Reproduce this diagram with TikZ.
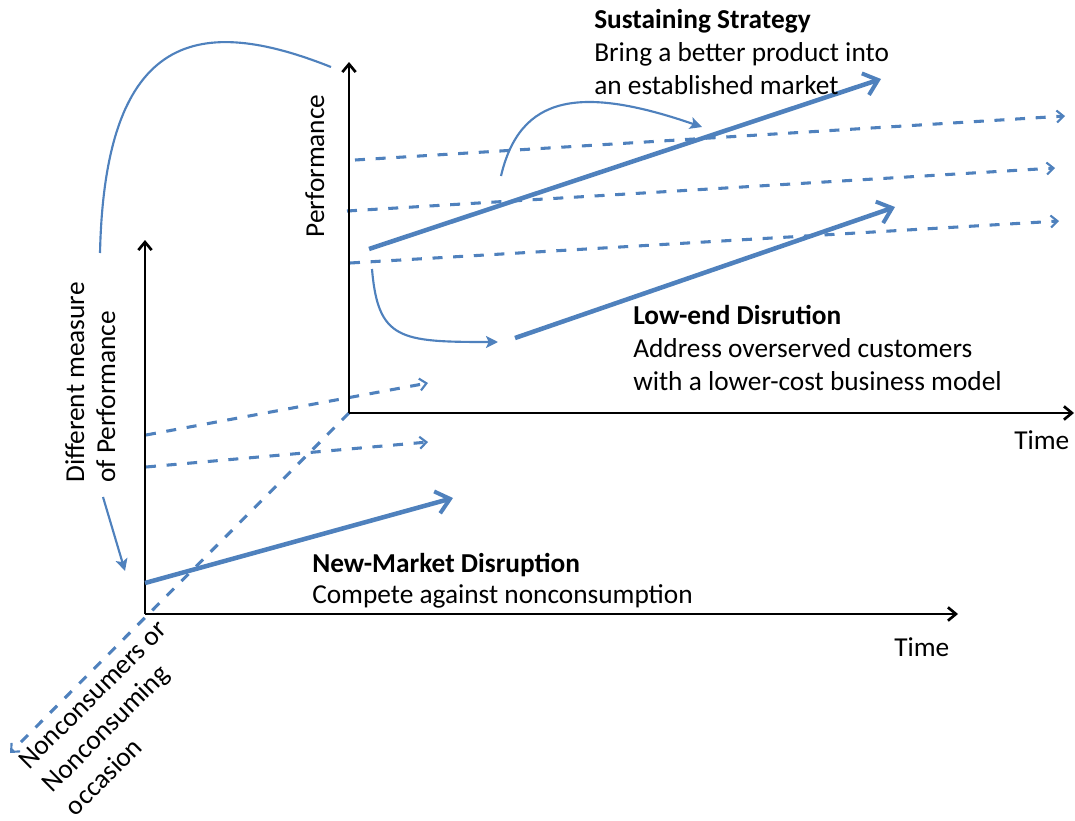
\documentclass[tikz,border=0pt]{standalone}
\usepackage{fontspec}
\setmainfont{Carlito}
\usetikzlibrary{arrows.meta}
\definecolor{pblue}{HTML}{4F81BD}
\begin{document}
\begin{tikzpicture}[x=0.75pt,y=-0.75pt,
  lbl/.style={inner sep=0pt, font=\fontsize{20.5}{24.75}\selectfont, text=black},
  axis/.style={draw=black, line width=2.2pt, -{Straight Barb[length=6pt,width=10pt,line width=2pt]}},
  trend/.style={draw=pblue, line width=2.3pt, dash pattern=on 7.5pt off 8pt, -{Straight Barb[length=5pt,width=9pt,line width=1.6pt]}},
  move/.style={draw=pblue, line width=3.4pt, -{Straight Barb[length=10pt,width=17pt,line width=3pt]}},
  jump/.style={draw=pblue, line width=1.6pt, -{Stealth[length=9pt,width=9pt,inset=2pt]}},
  plain/.style={draw=pblue, line width=1.6pt}
]
\useasboundingbox (0,0) rectangle (1075,821);

% coordinates
\coordinate (uo) at (349,413);
\coordinate (uy) at (349,62);
\coordinate (ux) at (1074,413);
\coordinate (lo) at (145,614);
\coordinate (ly) at (145,240);
\coordinate (lx) at (958,614);

\coordinate (d1s) at (355,160); \coordinate (d1e) at (1065,116);
\coordinate (d2s) at (347,211); \coordinate (d2e) at (1055,168);
\coordinate (d3s) at (350,263); \coordinate (d3e) at (1059,221);
\coordinate (d4s) at (146,435); \coordinate (d4e) at (428,383);
\coordinate (d5s) at (146,467); \coordinate (d5e) at (428,442);
\coordinate (d6e) at (10,753);

\coordinate (s1) at (369,249); \coordinate (s2) at (881,79);
\coordinate (l1) at (515,338); \coordinate (l2) at (895,207);
\coordinate (n1) at (145,583); \coordinate (n2) at (453,498);

\coordinate (c1s) at (501,176); \coordinate (c1e) at (702,127);
\coordinate (c2s) at (372,269); \coordinate (c2e) at (498,342);
\coordinate (c3s) at (100,253); \coordinate (c3e) at (331,67);
\coordinate (c4s) at (103,497); \coordinate (c4e) at (125,571);

% dashed trajectories
\draw[trend] (d1s) -- (d1e);
\draw[trend] (d2s) -- (d2e);
\draw[trend] (d3s) -- (d3e);
\draw[trend] (d4s) -- (d4e);
\draw[trend] (d5s) -- (d5e);
\draw[trend] (uo) -- (d6e);

% axes
\draw[axis] (uo) -- (uy);
\draw[axis] (uo) -- (ux);
\draw[axis] (lo) -- (ly);
\draw[axis] (lo) -- (lx);

% strategies
\draw[move] (s1) -- (s2);
\draw[move] (l1) -- (l2);
\draw[move] (n1) -- (n2);

% curved moves
\draw[jump] (c1s) .. controls (520,95) and (580,85) .. (c1e);
\draw[jump] (c2s) .. controls (378,340) and (400,342) .. (c2e);
\draw[plain] (c3s) .. controls (105,30) and (200,15) .. (c3e);
\draw[jump] (c4s) -- (c4e);

% texts
\node[lbl, anchor=base west] (sus1) at (594,28) {\textbf{Sustaining Strategy}};
\node[lbl, anchor=base west] (sus2) at (594,61) {Bring a better product into};
\node[lbl, anchor=base west] (sus3) at (594,94) {an established market};

\node[lbl, anchor=base west] (low1) at (633,324) {\textbf{Low-end Disrution}};
\node[lbl, anchor=base west] (low2) at (633,357) {Address overserved customers};
\node[lbl, anchor=base west] (low3) at (633,390) {with a lower-cost business model};

\node[lbl, anchor=base west] (new1) at (312,572) {\textbf{New-Market Disruption}};
\node[lbl, anchor=base west] (new2) at (312,603) {Compete against nonconsumption};

\node[lbl, anchor=base west] (time1) at (1014,449) {Time};
\node[lbl, anchor=base west] (time2) at (894,656) {Time};

\node[lbl, anchor=base, rotate=90] (perf) at (324,166) {Performance};
\node[lbl, anchor=base west, rotate=90] (dm1) at (84,483) {Different measure};
\node[lbl, anchor=base west, rotate=90] (dm2) at (115,483) {of Performance};

\node[lbl, align=left, rotate=45, font=\fontsize{20.5}{24.75}\selectfont] (nc) at (116,718)
  {Nonconsumers or\\Nonconsuming\\occasion};
\end{tikzpicture}
\end{document}
